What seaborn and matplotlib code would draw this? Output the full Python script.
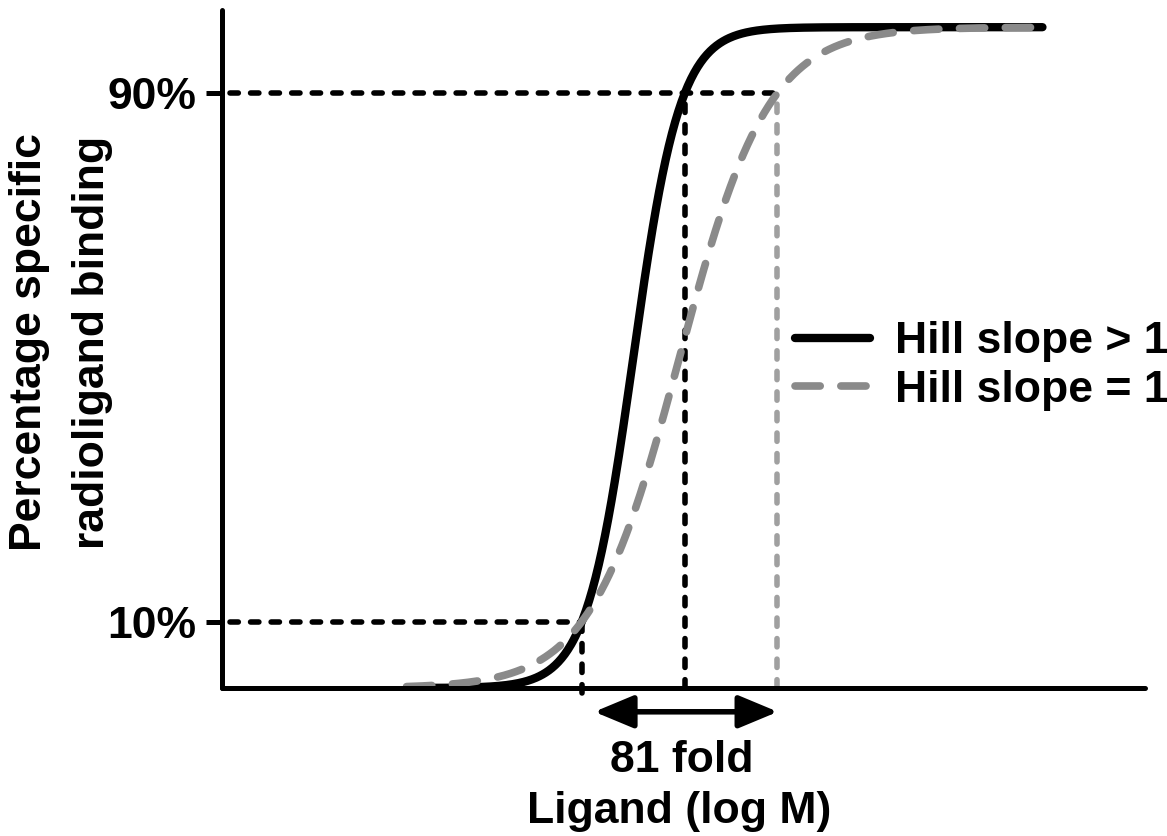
import numpy as np
import pandas as pd
import matplotlib
matplotlib.use("Agg")
import matplotlib.pyplot as plt
import seaborn as sns

# Curve definitions: Hill equation parameters for each series
series_labels = ["Hill slope > 1", "Hill slope = 1"]
log_ec50 = [-7.99, -7.54]        # log M
hill_slopes = [1.9, 1.0]
bottom_pct = [0.0, 0.0]
top_pct = [100.0, 100.0]
series_colors = ["#000000", "#8a8a8a"]

# Reference levels marked on the y axis
guide_levels = [10, 90]
guide_labels = ["10%", "90%"]
fold_label = "81 fold"
arrow_span = [-8.37, -6.58]      # log M, ends of the double arrow

# Concentration range drawn for the curves (log M)
x_start, x_end = -10.2, -4.0
x_limits = (-12.0, -3.0)
y_limits = (0.0, 102.6)


def hill(x, ec50, n, bot, top):
    return bot + (top - bot) / (1.0 + 10.0 ** ((ec50 - x) * n))


def hill_inverse(p, ec50, n, bot, top):
    frac = (p - bot) / (top - bot)
    return ec50 - np.log10((1.0 - frac) / frac) / n


x_grid = np.linspace(x_start, x_end, 600)
frames = []
for lab, e, n, b, t in zip(series_labels, log_ec50, hill_slopes, bottom_pct, top_pct):
    frames.append(pd.DataFrame({"logM": x_grid,
                                "binding": hill(x_grid, e, n, b, t),
                                "curve": lab}))
df = pd.concat(frames, ignore_index=True)

sns.set_theme(style="white")
plt.rcParams["font.family"] = ["Liberation Sans", "DejaVu Sans"]
plt.rcParams["font.weight"] = "bold"
plt.rcParams["text.color"] = "black"
plt.rcParams["axes.labelcolor"] = "black"
plt.rcParams["xtick.color"] = "black"
plt.rcParams["ytick.color"] = "black"

W, H = 1167, 836
fig = plt.figure(figsize=(W / 100, H / 100), dpi=100)
ax = fig.add_axes([222 / W, 1 - 688 / H, (1145 - 222) / W, (688 - 10) / H])

palette = dict(zip(series_labels, series_colors))
dashes = {series_labels[0]: "", series_labels[1]: (3.3, 2.7)}
sns.lineplot(data=df, x="logM", y="binding", hue="curve", style="curve",
             hue_order=series_labels, style_order=series_labels,
             palette=palette, dashes=dashes, estimator=None, errorbar=None,
             sort=False, ax=ax, legend=True)

line_widths = [6.0, 5.5]
for line, lw in zip(ax.lines[:2], line_widths):
    line.set_linewidth(lw)
    line.set_dash_capstyle("round")
    line.set_solid_capstyle("round")

ax.set_xlim(*x_limits)
ax.set_ylim(*y_limits)

# Dotted guide lines at the 10% and 90% crossings
dot_style = dict(linestyle=(0, (1.5, 2.2)), linewidth=4.0,
                 dash_capstyle="round", clip_on=False, zorder=1)
x10_steep = hill_inverse(guide_levels[0], log_ec50[0], hill_slopes[0], bottom_pct[0], top_pct[0])
x90_steep = hill_inverse(guide_levels[1], log_ec50[0], hill_slopes[0], bottom_pct[0], top_pct[0])
x90_unit = hill_inverse(guide_levels[1], log_ec50[1], hill_slopes[1], bottom_pct[1], top_pct[1])

ax.plot([x_limits[0] + 0.08, x10_steep], [guide_levels[0]] * 2, color="black", **dot_style)
ax.plot([x_limits[0] + 0.08, x90_unit], [guide_levels[1]] * 2, color="black", **dot_style)
ax.plot([x10_steep, x10_steep], [-0.7, guide_levels[0]], color="black", **dot_style)
ax.plot([x90_steep, x90_steep], [0, guide_levels[1]], color="black", **dot_style)
ax.plot([x90_unit, x90_unit], [0, guide_levels[1]], color="#a0a0a0", **dot_style)

# Axes styling
for side in ["top", "right"]:
    ax.spines[side].set_visible(False)
for side in ["left", "bottom"]:
    ax.spines[side].set_linewidth(3.6)
    ax.spines[side].set_color("black")
    ax.spines[side].set_capstyle("round")

ax.set_xticks([])
ax.set_yticks(guide_levels)
ax.set_yticklabels(guide_labels, fontsize=32, fontweight="bold", color="black")
ax.tick_params(axis="y", direction="out", length=11.5, width=3.6,
               color="black", labelcolor="black", pad=7, left=True)
ax.set_xlabel("")
ax.set_ylabel("")

# Double-headed arrow marking the 10%-90% span
ax.annotate("", xy=(arrow_span[1], -3.6), xytext=(arrow_span[0], -3.6),
            xycoords="data", textcoords="data", annotation_clip=False,
            arrowprops=dict(arrowstyle="<|-|>,head_length=1.2,head_width=0.5",
                            mutation_scale=20, lw=4.0, color="black",
                            shrinkA=0, shrinkB=0))

fig.text(682 / W, 1 - 772 / H, fold_label, ha="center", va="baseline",
         fontsize=32, fontweight="bold", color="black")
fig.text(679 / W, 1 - 823 / H, "Ligand (log M)", ha="center", va="baseline",
         fontsize=32, fontweight="bold", color="black")
fig.text(61 / W, 1 - 342 / H, "Percentage specific\nradioligand binding",
         rotation=90, ha="center", va="center", multialignment="center",
         linespacing=1.7, fontsize=32, fontweight="bold", color="black")

# Legend
handles, labels = ax.get_legend_handles_labels()
for h in handles:
    h.set_dash_capstyle("round")
    h.set_solid_capstyle("round")
for h, lw in zip(handles, line_widths):
    h.set_linewidth(lw)
leg = ax.legend(handles, labels, loc="center left",
                bbox_to_anchor=(795 / W, 1 - 366 / H), bbox_transform=fig.transFigure,
                frameon=False, borderpad=0, borderaxespad=0,
                handlelength=1.69, handletextpad=0.56, labelspacing=0.16,
                prop=dict(size=32, weight="bold"))
for t in leg.get_texts():
    t.set_color("black")

fig.savefig("out.png", dpi=100)
